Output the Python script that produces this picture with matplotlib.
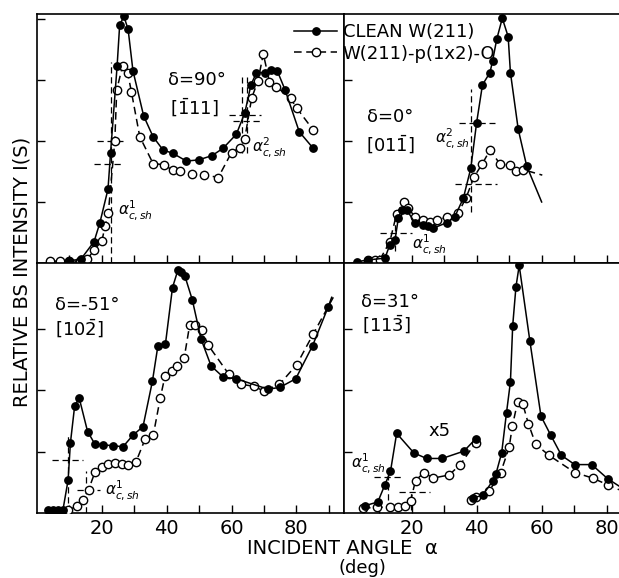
import matplotlib
matplotlib.use("Agg")
import matplotlib.pyplot as plt
from matplotlib.lines import Line2D

# ---- data (alpha in deg, intensity in tick units) ----
# delta = 90 deg [-111]
tl_clean_a = [10, 13.5, 17.6, 19.4, 21.9, 22.7, 24.7, 25.5, 26.8, 28.1, 29.6, 32.9, 35.8, 38.9, 41.8, 46.1, 49.9, 54.0,
              57.4, 61.5, 64.1, 66.0, 67.7, 70.3, 72.3, 74.1, 76.5, 80.9, 85.2]
tl_clean_i = [0.04, 0.06, 0.35, 0.66, 1.21, 1.81, 3.22, 3.90, 4.04, 3.83, 3.15, 2.41, 2.07, 1.85, 1.80, 1.67, 1.69, 1.76,
              1.88, 2.11, 2.46, 2.92, 3.12, 3.12, 3.16, 3.15, 2.84, 2.15, 1.88]
tl_oxy_a = [4, 7, 10, 13.2, 15.5, 17.7, 20.0, 21.0, 22.0, 24.0, 24.6, 26.4, 28.0, 29.1, 31.7, 35.8, 39.2, 41.8, 44.0,
            47.7, 51.5, 55.9, 60.0, 62.6, 64.1, 66.2, 68.2, 69.8, 71.7, 73.8, 78.2, 80.1, 85.2]
tl_oxy_i = [0.03, 0.03, 0.03, 0.03, 0.06, 0.22, 0.36, 0.60, 0.82, 2.00, 2.84, 3.23, 3.11, 2.81, 2.07, 1.63, 1.61, 1.52,
            1.50, 1.46, 1.45, 1.40, 1.81, 1.89, 2.04, 2.70, 2.99, 3.43, 2.97, 2.89, 2.70, 2.54, 2.18]

# delta = 0 deg [01-1]  (last value of each list is the end of the drawn curve, no point)
tr_clean_a = [3.1, 6.6, 11.8, 13.3, 14.9, 15.9, 16.9, 18.5, 21.0, 23.6, 25.1, 26.6, 30.8, 33.3, 35.9, 38.2, 40.0, 41.8,
              44.1, 44.9, 46.2, 47.9, 49.7, 50.4, 52.8, 55.4, 60.0]
tr_clean_i = [0.02, 0.05, 0.08, 0.30, 0.38, 0.73, 0.87, 0.87, 0.66, 0.62, 0.60, 0.57, 0.66, 0.76, 1.06, 1.55, 2.30, 2.92,
              3.12, 3.31, 3.67, 4.01, 3.71, 3.12, 2.19, 1.59, 1.00]
tr_oxy_a = [6.6, 8.7, 10.2, 13.3, 15.4, 17.6, 18.9, 21.0, 23.6, 25.6, 27.7, 30.8, 34.3, 36.7, 39.2, 41.8, 44.1, 47.1,
            50.2, 52.1, 54.3, 60.2]
tr_oxy_i = [0.05, 0.05, 0.05, 0.35, 0.81, 1.00, 0.90, 0.76, 0.70, 0.68, 0.70, 0.75, 0.82, 1.06, 1.41, 1.63, 1.85, 1.63,
            1.60, 1.51, 1.53, 1.44]

# delta = -51 deg [10-2]
bl_clean_a = [3.4, 5.0, 6.5, 8.0, 9.6, 10.3, 11.6, 13.0, 15.6, 17.8, 20.4, 23.5, 26.5, 29.6, 32.7, 35.6, 37.3, 39.6,
              41.8, 43.5, 44.5, 45.6, 47.9, 50.6, 53.7, 57.4, 61.5, 71.3, 74.9, 79.8, 85.0, 89.8, 90.9]
bl_clean_i = [0.05, 0.05, 0.05, 0.05, 0.54, 1.14, 1.74, 1.88, 1.33, 1.13, 1.11, 1.10, 1.08, 1.27, 1.41, 2.15, 2.73, 2.75,
              3.68, 3.97, 3.94, 3.87, 3.48, 2.84, 2.40, 2.22, 2.19, 2.02, 2.05, 2.19, 2.73, 3.36, 3.52]
bl_oxy_a = [9.7, 12.3, 14.1, 15.9, 17.9, 20.0, 22.0, 24.1, 26.1, 28.2, 30.5, 33.3, 35.9, 38.0, 39.5, 41.6, 43.3, 45.4,
            47.1, 48.7, 50.8, 52.8, 59.1, 62.9, 66.8, 70.0, 74.8, 80.1, 85.2, 91.4]
bl_oxy_i = [0.05, 0.11, 0.21, 0.38, 0.67, 0.75, 0.80, 0.82, 0.80, 0.79, 0.83, 1.20, 1.28, 1.87, 2.24, 2.32, 2.40, 2.53,
            3.07, 3.07, 2.99, 2.74, 2.27, 2.10, 2.07, 1.99, 2.10, 2.42, 2.92, 3.52]

# delta = 31 deg [11-3], low-angle part shown x5
br_x5_clean_a = [5.7, 9.6, 11.7, 13.5, 15.4, 20.7, 24.6, 29.4, 36.1, 39.7]
br_x5_clean_i = [0.12, 0.18, 0.45, 0.68, 1.30, 0.98, 0.89, 0.89, 1.01, 1.21]
br_x5_oxy_a = [5.0, 9.2, 13.3, 15.9, 18.0, 19.7, 21.2, 23.8, 26.6, 31.5, 35.0, 39.7]
br_x5_oxy_i = [0.08, 0.09, 0.10, 0.10, 0.11, 0.20, 0.53, 0.66, 0.57, 0.62, 0.79, 1.15]
br_clean_a = [39.0, 42.0, 44.9, 45.9, 47.7, 49.2, 50.4, 51.1, 52.1, 53.1, 56.4, 59.8, 62.8, 66.1, 70.2, 75.4, 80.3, 83.8]
br_clean_i = [0.24, 0.30, 0.52, 0.63, 0.98, 1.64, 2.14, 3.06, 3.69, 4.04, 2.80, 1.58, 1.27, 0.94, 0.79, 0.79, 0.56, 0.44]
br_oxy_a = [38.3, 39.8, 43.9, 47.4, 50.0, 51.0, 52.6, 54.2, 55.9, 58.2, 62.3, 70.2, 75.7, 80.3, 83.8]
br_oxy_i = [0.22, 0.26, 0.36, 0.66, 1.07, 1.42, 1.81, 1.78, 1.46, 1.12, 0.94, 0.66, 0.57, 0.46, 0.38]

panel_text = {
    'tl': ('δ=90°', r'[$\bar{\mathrm{1}}$11]'),
    'tr': ('δ=0°', r'[01$\bar{\mathrm{1}}$]'),
    'bl': ('δ=-51°', r'[10$\bar{\mathrm{2}}$]'),
    'br': ('δ=31°', r'[11$\bar{\mathrm{3}}$]'),
}

# critical-angle guide lines: (x, y0, y1) verticals and (y, x0, x1) horizontals
tl_vlines = [(22.8, 0, 3.3), (63.2, 1.8, 3.05), (64.9, 1.8, 3.05)]
tl_hlines = [(2.0, 18.4, 26.5), (1.62, 17.5, 26.5), (2.42, 59.2, 69.0), (2.33, 60.5, 69.3)]
tr_vlines = [(14.8, 0.2, 0.87), (38.4, 0.83, 2.85)]
tr_hlines = [(0.49, 10.3, 20.0), (2.30, 34.6, 45.7), (1.30, 33.4, 46.2)]
bl_vlines = [(9.7, 0, 1.26), (15.1, 0, 0.69)]
bl_hlines = [(0.87, 4.5, 14.3), (0.38, 12.2, 19.5)]
br_vlines = [(12.8, 0.05, 0.73), (19.7, 0.05, 0.33)]
br_hlines = [(0.58, 8.4, 17.6), (0.34, 16.0, 25.8)]

plt.rcParams['font.family'] = 'DejaVu Sans'
plt.rcParams['mathtext.fontset'] = 'dejavusans'

fig = plt.figure(figsize=(6.19, 5.78), dpi=100)
W, H = 619.0, 578.0
ax_tl = fig.add_axes([37 / W, 1 - 263 / H, 307 / W, 249 / H])
ax_tr = fig.add_axes([344 / W, 1 - 263 / H, 275 / W, 249 / H])
ax_bl = fig.add_axes([37 / W, 1 - 513 / H, 307 / W, 250 / H])
ax_br = fig.add_axes([344 / W, 1 - 513 / H, 275 / W, 250 / H])

lw = 1.1
clean_kw = dict(color='black', lw=lw, ls='-', marker='o', ms=5.3, mfc='black', mec='black')
oxy_kw = dict(color='black', lw=lw, ls=(0, (5, 3)), marker='o', ms=6.0, mfc='white', mec='black', mew=1.0)


def draw(ax, ca, ci, oa, oi, tail_c=False, tail_o=False):
    me_c = list(range(len(ca) - 1)) if tail_c else None
    me_o = list(range(len(oa) - 1)) if tail_o else None
    ax.plot(oa, oi, markevery=me_o, zorder=3, **oxy_kw)
    ax.plot(ca, ci, markevery=me_c, zorder=4, **clean_kw)


def guides(ax, vl, hl):
    for x, y0, y1 in vl:
        ax.plot([x, x], [y0, y1], color='black', lw=0.9, ls=(0, (5, 3)), zorder=2)
    for y, x0, x1 in hl:
        ax.plot([x0, x1], [y, y], color='black', lw=0.9, ls=(0, (5, 3)), zorder=2)


draw(ax_tl, tl_clean_a, tl_clean_i, tl_oxy_a, tl_oxy_i)
draw(ax_tr, tr_clean_a, tr_clean_i, tr_oxy_a, tr_oxy_i, True, True)
draw(ax_bl, bl_clean_a, bl_clean_i, bl_oxy_a, bl_oxy_i, True, True)
draw(ax_br, br_x5_clean_a, br_x5_clean_i, br_x5_oxy_a, br_x5_oxy_i)
draw(ax_br, br_clean_a, br_clean_i, br_oxy_a, br_oxy_i, True, True)

guides(ax_tl, tl_vlines, tl_hlines)
guides(ax_tr, tr_vlines, tr_hlines)
guides(ax_bl, bl_vlines, bl_hlines)
guides(ax_br, br_vlines, br_hlines)

for ax, key in [(ax_tl, 'tl'), (ax_tr, 'tr'), (ax_bl, 'bl'), (ax_br, 'br')]:
    left = ax in (ax_tl, ax_bl)
    ax.set_xlim(0, 94.7) if left else ax.set_xlim(-0.8, 83.8)
    ax.set_ylim(0, 4.08)
    ax.set_xticks(range(10, 100 if left else 90, 10))
    ax.set_yticks([1, 2, 3, 4] if key == 'tl' else [1, 2, 3])
    ax.tick_params(direction='in', length=6, width=1.0, labelleft=False, labelsize=14, pad=4)
    if key in ('tl', 'tr'):
        ax.tick_params(labelbottom=False)
    else:
        ax.set_xticklabels(['' if v % 20 else str(v) for v in ax.get_xticks().astype(int)])
    for s in ax.spines.values():
        s.set_linewidth(1.2)
    if not left:
        ax.spines['right'].set_visible(False)

# panel labels
ax_tl.text(40.3, 3.00, panel_text['tl'][0], fontsize=13, va='center')
ax_tl.text(41.0, 2.54, panel_text['tl'][1], fontsize=13, va='center')
ax_tr.text(6.3, 2.39, panel_text['tr'][0], fontsize=13, va='center')
ax_tr.text(6.0, 1.93, panel_text['tr'][1], fontsize=13, va='center')
ax_bl.text(5.5, 3.39, panel_text['bl'][0], fontsize=13, va='center')
ax_bl.text(5.5, 3.00, panel_text['bl'][1], fontsize=13, va='center')
ax_br.text(4.4, 3.44, panel_text['br'][0], fontsize=13, va='center')
ax_br.text(4.6, 3.07, panel_text['br'][1], fontsize=13, va='center')
ax_br.text(28.7, 1.34, 'x5', fontsize=13, ha='center', va='center')

ax_tl.text(25.0, 0.87, r'$\alpha^{1}_{c,sh}$', fontsize=11, va='center')
ax_tl.text(66.3, 1.90, r'$\alpha^{2}_{c,sh}$', fontsize=11, va='center')
ax_tr.text(27.2, 2.05, r'$\alpha^{2}_{c,sh}$', fontsize=11, va='center')
ax_tr.text(20.2, 0.31, r'$\alpha^{1}_{c,sh}$', fontsize=11, va='center')
ax_bl.text(20.9, 0.38, r'$\alpha^{1}_{c,sh}$', fontsize=11, va='center')
ax_br.text(1.3, 0.82, r'$\alpha^{1}_{c,sh}$', fontsize=11, va='center')

fig.text(22 / W, 1 - 272 / H, 'RELATIVE BS INTENSITY I(S)', rotation=90, ha='center', va='center', fontsize=14)
fig.text(342 / W, 1 - 548 / H, 'INCIDENT ANGLE  α', ha='center', va='center', fontsize=14)
fig.text(362 / W, 1 - 568 / H, '(deg)', ha='center', va='center', fontsize=13)

handles = [Line2D([], [], **clean_kw), Line2D([], [], **oxy_kw)]
fig.legend(handles, ['CLEAN W(211)', 'W(211)-p(1x2)-O'], loc='upper left',
           bbox_to_anchor=(294 / W, 1 - 23 / H), frameon=False, fontsize=13,
           handlelength=2.4, handletextpad=0.3, labelspacing=0.2, borderpad=0, borderaxespad=0)

fig.savefig('out.png', dpi=100)
